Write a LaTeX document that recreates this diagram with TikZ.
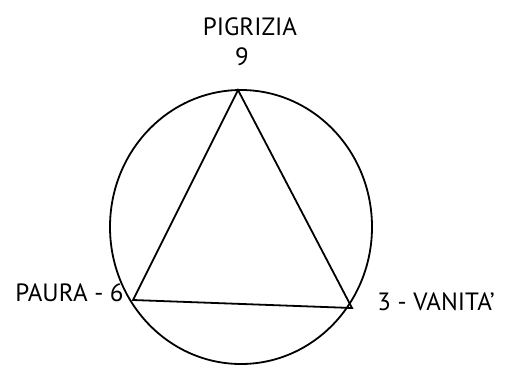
\documentclass[tikz,border=0pt]{standalone}
\usepackage{fontspec}
\setmainfont{PT Sans}
\usetikzlibrary{positioning}

\begin{document}
\begin{tikzpicture}[x=0.5pt, y=-0.5pt]
  \tikzset{vice/.style={font=\fontsize{12.5}{14}\selectfont, inner sep=0pt}}
  \useasboundingbox (0,0) rectangle (508,365);

  % Enneagram circle
  \draw[line width=0.9pt] (241,227) ellipse [x radius=131, y radius=137];

  % Triangle points on the circle
  \coordinate (p9) at (238,90);
  \coordinate (p6) at (133,300);
  \coordinate (p3) at (352,308);
  \draw[line width=0.9pt, line join=miter] (p9) -- (p6) -- (p3) -- cycle;

  % Labels
  \node[vice] (pigrizia) at (250,27) {PIGRIZIA};
  \node[vice] (nove) at (242,57) {9};
  \node[vice, anchor=east] (paura) at (124,293) {PAURA - 6};
  \node[vice, anchor=west] (vanita) at (377,302) {3 - VANITA'};
\end{tikzpicture}
\end{document}
